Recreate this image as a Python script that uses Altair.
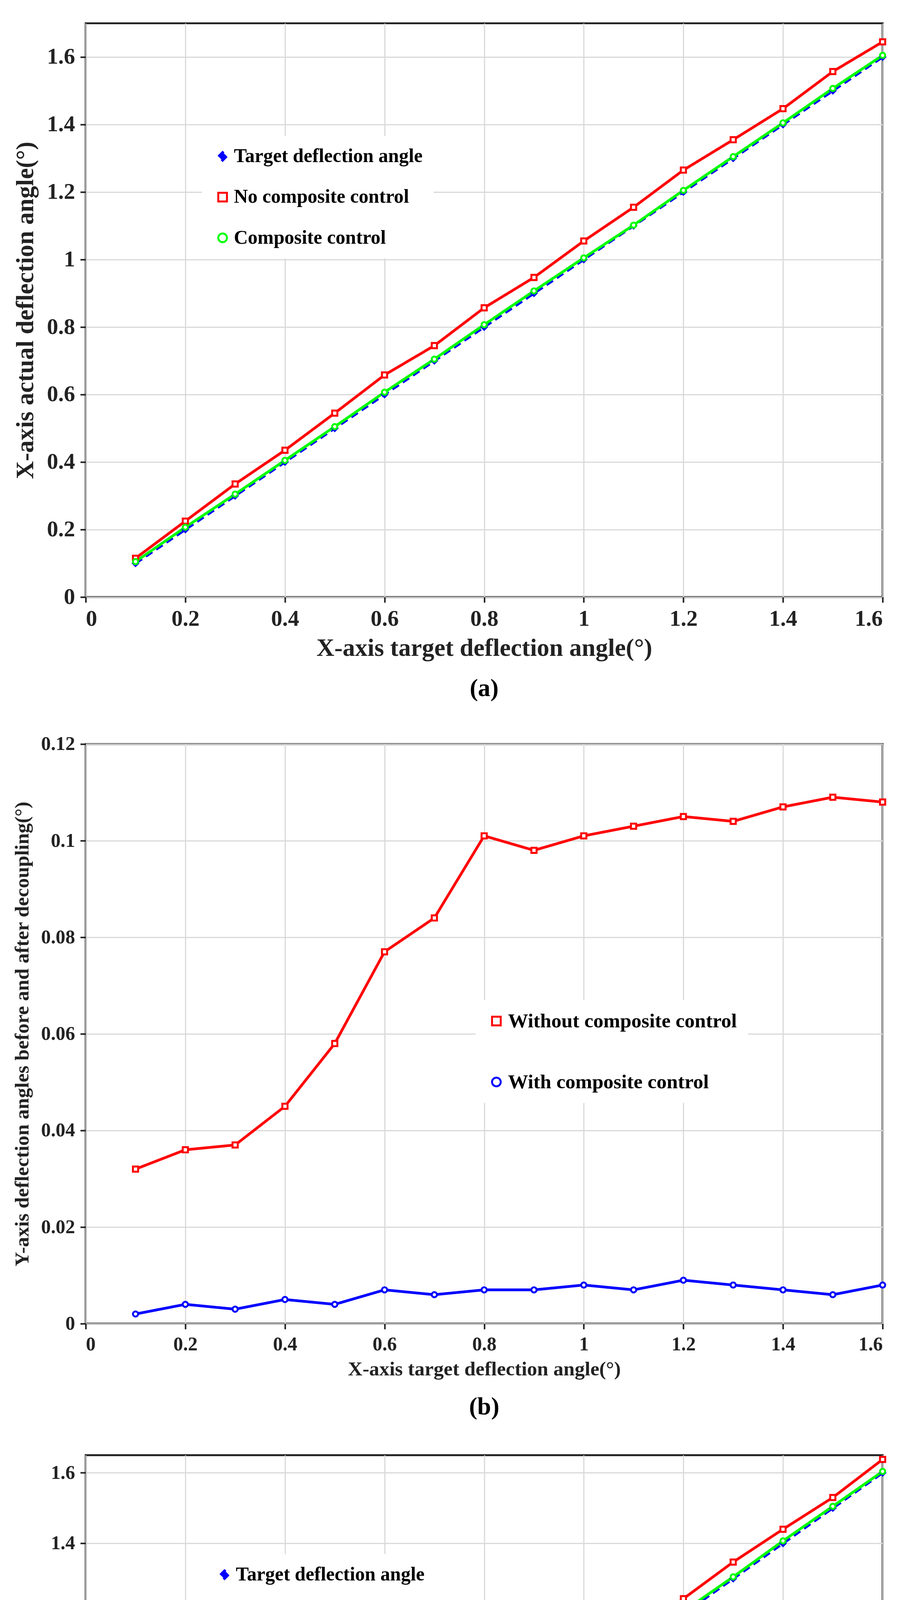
import pandas as pd
import altair as alt

# Target angles (x axis) shared by all three panels
TARGET = [0.1, 0.2, 0.3, 0.4, 0.5, 0.6, 0.7, 0.8, 0.9, 1.0, 1.1, 1.2, 1.3, 1.4, 1.5, 1.6]

# Panel (a): X-axis actual deflection
A_NO_COMPOSITE = [0.115, 0.225, 0.335, 0.435, 0.545, 0.658, 0.745, 0.857, 0.947, 1.055,
                  1.155, 1.265, 1.355, 1.447, 1.557, 1.645]
A_COMPOSITE = [0.105, 0.207, 0.305, 0.405, 0.505, 0.607, 0.705, 0.807, 0.907, 1.005,
               1.102, 1.205, 1.305, 1.405, 1.507, 1.605]

# Panel (b): Y-axis coupling deflection
B_WITHOUT = [0.032, 0.036, 0.037, 0.045, 0.058, 0.077, 0.084, 0.101, 0.098, 0.101,
             0.103, 0.105, 0.104, 0.107, 0.109, 0.108]
B_WITH = [0.002, 0.004, 0.003, 0.005, 0.004, 0.007, 0.006, 0.007, 0.007, 0.008,
          0.007, 0.009, 0.008, 0.007, 0.006, 0.008]

# Panel (c): Y-axis actual deflection
C_NO_COMPOSITE = [0.112, 0.222, 0.328, 0.430, 0.535, 0.647, 0.745, 0.847, 0.943, 1.037,
                  1.143, 1.243, 1.347, 1.440, 1.530, 1.638]
C_COMPOSITE = [0.104, 0.205, 0.305, 0.403, 0.503, 0.606, 0.705, 0.805, 0.905, 1.003,
               1.107, 1.207, 1.305, 1.407, 1.505, 1.604]

FONT = "Liberation Serif"
W = 2055


def make_df(series):
    rows = []
    for name, vals in series:
        for x, y in zip(TARGET, vals):
            rows.append({"x": x, "y": y, "series": name})
    return pd.DataFrame(rows)


def panel(series, colors, shapes, fills, dashes, ymax, ystep, xtitle, ytitle, caption,
          height, tick_fs, title_fs, leg_fs, leg_x, leg_y, leg_pad):
    names = [s[0] for s in series]
    df = make_df(series)
    leg = dict(title=None, orient="none", legendX=leg_x, legendY=leg_y)
    col = alt.Color("series:N", scale=alt.Scale(domain=names, range=colors),
                    legend=alt.Legend(**leg, symbolStrokeWidth=5, symbolSize=500,
                                      labelFont=FONT, labelFontWeight="bold", labelFontSize=leg_fs,
                                      labelLimit=1200, rowPadding=leg_pad, padding=28,
                                      fillColor="white"))
    dash = alt.StrokeDash("series:N", scale=alt.Scale(domain=names, range=dashes),
                          legend=alt.Legend(**leg))
    x = alt.X("x:Q", scale=alt.Scale(domain=[0, 1.6], nice=False),
              axis=alt.Axis(values=[i / 5 for i in range(9)], format="~g", title=xtitle,
                            labelFontSize=tick_fs, titleFontSize=title_fs, labelPadding=14,
                            titlePadding=14))
    yticks = [round(i * ystep, 4) for i in range(int(round(ymax / ystep)) + 1) if i * ystep <= ymax + 1e-9]
    y = alt.Y("y:Q", scale=alt.Scale(domain=[0, ymax], nice=False),
              axis=alt.Axis(values=yticks, format="~g", title=ytitle,
                            labelFontSize=tick_fs, titleFontSize=title_fs, labelPadding=14,
                            titlePadding=22))
    lines = alt.Chart(df).mark_line(strokeWidth=7).encode(x=x, y=y, color=col, strokeDash=dash,
                                                          order="x:Q")
    pts = alt.Chart(df).mark_point(size=180, strokeWidth=5, opacity=1).encode(
        x="x:Q", y="y:Q",
        color=alt.Color("series:N", scale=alt.Scale(domain=names, range=colors)),
        shape=alt.Shape("series:N", scale=alt.Scale(domain=names, range=shapes)),
        fill=alt.Fill("series:N", scale=alt.Scale(domain=names, range=fills), legend=None),
    )
    return alt.layer(lines, pts).properties(
        width=W, height=height,
        title=alt.TitleParams(caption, orient="bottom", font=FONT, fontSize=64,
                              fontWeight="bold", offset=40),
    )


A_NAMES = ["Target deflection angle", "No composite control", "Composite control"]
panel_a = panel(
    [(A_NAMES[0], TARGET), (A_NAMES[1], A_NO_COMPOSITE), (A_NAMES[2], A_COMPOSITE)],
    ["#0000ff", "#ff0000", "#00ff00"], ["diamond", "square", "circle"],
    ["#0000ff", "white", "white"], [[20, 12], [1, 0], [1, 0]],
    1.7, 0.2, "X-axis target deflection angle(°)", "X-axis actual deflection angle(°)", "(a)",
    1479, 58, 64, 50, 300, 290, 55)

panel_b = panel(
    [("Without composite control", B_WITHOUT), ("With composite control", B_WITH)],
    ["#ff0000", "#0000ff"], ["square", "circle"], ["white", "white"], [[1, 0], [1, 0]],
    0.12, 0.02, "X-axis target deflection angle(°)",
    "Y-axis deflection angles before and after decoupling(°)", "(b)",
    1494, 50, 52, 52, 1005, 660, 105)

panel_c = panel(
    [(A_NAMES[0], TARGET), (A_NAMES[1], C_NO_COMPOSITE), (A_NAMES[2], C_COMPOSITE)],
    ["#0000ff", "#ff0000", "#00ff00"], ["diamond", "square", "circle"],
    ["#0000ff", "white", "white"], [[20, 12], [1, 0], [1, 0]],
    1.65, 0.2, "Y-axis target deflection angle(°)", "Y-axis actual deflection angle(°)", "(c)",
    1500, 50, 54, 50, 305, 255, 68)

chart = (alt.vconcat(panel_a, panel_b, panel_c, spacing=80)
         .resolve_scale(color="independent", shape="independent", fill="independent",
                        strokeDash="independent")
         .resolve_legend(color="independent", shape="independent", strokeDash="independent")
         .properties(padding={"top": 30, "left": 20, "right": 40, "bottom": 10})
         .configure_view(stroke="#222222", strokeWidth=5)
         .configure_axis(labelFont=FONT, titleFont=FONT, labelFontWeight="bold",
                         titleFontWeight="bold", labelColor="#222222", titleColor="#222222",
                         gridColor="#d9d9d9", gridWidth=3, domain=False, tickColor="#222222",
                         tickWidth=4, tickSize=14)
         .configure_concat(spacing=80))

chart.save("out.html", embed_options={"renderer": "svg", "actions": False})
